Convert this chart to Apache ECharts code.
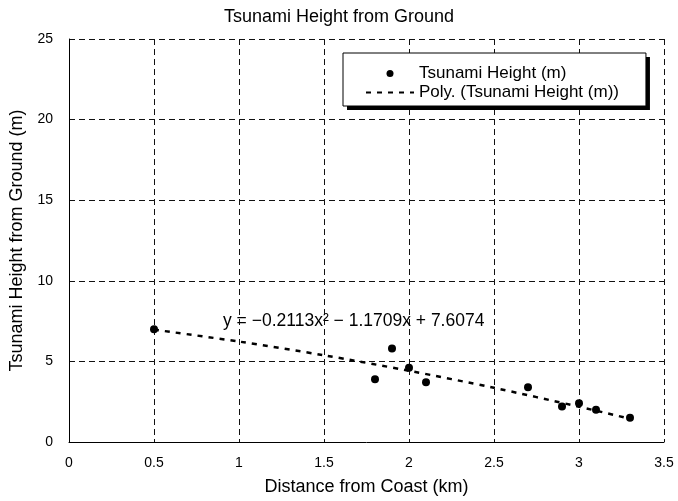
<!DOCTYPE html>
<html>
<head>
<meta charset="utf-8">
<script src="https://cdn.jsdelivr.net/npm/echarts@6/dist/echarts.min.js"></script>
<style>html,body{margin:0;padding:0;background:#fff}#c{width:678px;height:501px}</style>
</head>
<body>
<div id="c"></div>
<script>
// Observed points
const distances = [0.5, 1.8, 1.9, 2.0, 2.1, 2.7, 2.9, 3.0, 3.1, 3.3];
const heights   = [7.0, 3.9, 5.8, 4.6, 3.7, 3.4, 2.2, 2.4, 2.0, 1.5];
// Trend line values
const trendX = [0.5, 1.0, 1.5, 2.0, 2.5, 3.0, 3.3];
const trendY = [6.97, 6.23, 5.38, 4.42, 3.36, 2.19, 1.44];
const xTicks = [0, 0.5, 1, 1.5, 2, 2.5, 3, 3.5];
const yTicks = [0, 5, 10, 15, 20, 25];
const titleText = 'Tsunami Height from Ground';
const xName = 'Distance from Coast (km)';
const yName = 'Tsunami Height from Ground (m)';
const seriesName = 'Tsunami Height (m)';
const trendName = 'Poly. (Tsunami Height (m))';
const equation = 'y = \u22120.2113x\u00B2 \u2212 1.1709x + 7.6074';

const F = 'Liberation Sans, Arial, sans-serif';
const legendBase = {
  orient: 'vertical',
  padding: [11, 27, 4, 22], itemGap: 0, itemWidth: 48, itemHeight: 7,
  textStyle: {fontFamily: F, fontSize: 17, color: '#000', lineHeight: 19},
  selectedMode: false,
  data: [seriesName, {name: trendName, itemStyle: {opacity: 0}}]
};
const chart = echarts.init(document.getElementById('c'), null, {renderer: 'canvas'});
chart.setOption({
  animation: false,
  backgroundColor: '#fff',
  title: {
    text: titleText, left: 'center', top: 8, padding: 0,
    textStyle: {fontFamily: F, fontSize: 18, fontWeight: 'normal', color: '#000'}
  },
  grid: {left: 69, right: 14, top: 39, bottom: 56},
  xAxis: {
    type: 'value', min: xTicks[0], max: xTicks[xTicks.length - 1], interval: 0.5,
    name: xName, nameLocation: 'middle', nameGap: 36,
    nameTextStyle: {fontFamily: F, fontSize: 18, color: '#000'},
    axisLine: {show: true, onZero: false, lineStyle: {color: '#000', width: 1}},
    axisTick: {show: false},
    axisLabel: {fontFamily: F, fontSize: 14, color: '#000', margin: 14},
    splitLine: {show: true, lineStyle: {color: '#111', width: 1, type: [6, 4]}}
  },
  yAxis: {
    type: 'value', min: yTicks[0], max: yTicks[yTicks.length - 1], interval: 5,
    name: yName, nameLocation: 'middle', nameGap: 32,
    nameTextStyle: {fontFamily: F, fontSize: 18, color: '#000'},
    axisLine: {show: true, lineStyle: {color: '#000', width: 1}},
    axisTick: {show: false},
    axisLabel: {fontFamily: F, fontSize: 14, color: '#000', margin: 16},
    splitLine: {show: true, lineStyle: {color: '#111', width: 1, type: [6, 4]}}
  },
  legend: [
    Object.assign({}, legendBase, {
      left: 347, top: 57, z: 4, backgroundColor: '#000', borderWidth: 0
    }),
    Object.assign({}, legendBase, {
      left: 343, top: 53, z: 5, backgroundColor: '#fff', borderColor: '#000', borderWidth: 1
    })
  ],
  graphic: [{
    type: 'text', left: 223, top: 312, z: 10,
    style: {text: equation, font: '17.5px ' + F, fill: '#000'}
  }],
  series: [
    {
      name: trendName, type: 'line', smooth: 0.3, symbol: 'none', z: 2,
      data: trendX.map((x, i) => [x, trendY[i]]),
      lineStyle: {color: '#000', width: 2.5, type: [5, 6]},
      itemStyle: {color: '#000'}
    },
    {
      name: seriesName, type: 'scatter', symbol: 'circle', symbolSize: 8, z: 3,
      data: distances.map((x, i) => [x, heights[i]]),
      itemStyle: {color: '#000', opacity: 1}
    }
  ]
});
</script>
</body>
</html>
